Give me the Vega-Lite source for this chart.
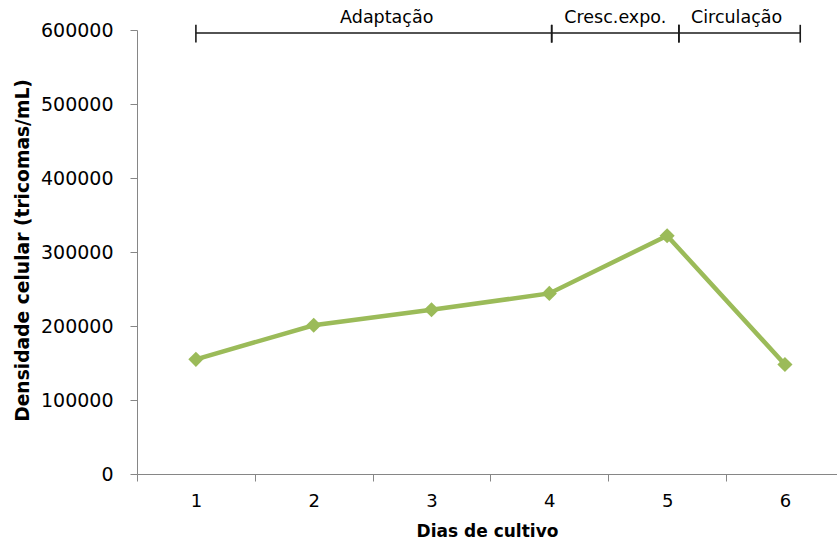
{
  "$schema": "https://vega.github.io/schema/vega-lite/v6.json",
  "width": 700,
  "height": 444,
  "autosize": {"type": "none"},
  "padding": {"left": 137, "top": 30, "right": 0, "bottom": 78},
  "background": "white",
  "config": {"view": {"stroke": null}, "font": "DejaVu Sans"},
  "datasets": {
    "series": [
      {"dia": 1, "densidade": 155000},
      {"dia": 2, "densidade": 201000},
      {"dia": 3, "densidade": 222000},
      {"dia": 4, "densidade": 244000},
      {"dia": 5, "densidade": 322000},
      {"dia": 6, "densidade": 148000}
    ],
    "fases": [
      {"fase": "Adaptação", "inicio": 1, "fim": 4.02, "rotulo": 2.62},
      {"fase": "Cresc.expo.", "inicio": 4.02, "fim": 5.1, "rotulo": 4.56},
      {"fase": "Circulação", "inicio": 5.1, "fim": 6.13, "rotulo": 5.59}
    ]
  },
  "resolve": {"axis": {"x": "independent", "y": "independent"}},
  "layer": [
    {
      "data": {"name": "series"},
      "mark": {"type": "line", "color": "#9BBB59", "strokeWidth": 4.5},
      "encoding": {
        "x": {
          "field": "dia", "type": "quantitative",
          "scale": {"domain": [0.5, 6.442], "nice": false, "zero": false},
          "axis": {
            "values": [1, 2, 3, 4, 5, 6], "ticks": false, "domain": false, "grid": false,
            "labelFontSize": 18, "labelColor": "#000000", "labelPadding": 18,
            "title": "Dias de cultivo", "titleFontSize": 17, "titleFontWeight": "bold",
            "titleColor": "#000000", "titlePadding": 13, "orient": "bottom"
          }
        },
        "y": {
          "field": "densidade", "type": "quantitative",
          "scale": {"domain": [0, 600000], "nice": false},
          "axis": {
            "values": [0, 100000, 200000, 300000, 400000, 500000, 600000],
            "format": "d", "grid": false,
            "tickSize": 7, "tickColor": "#868686", "domainColor": "#868686", "domainWidth": 1,
            "labelFontSize": 19, "labelColor": "#000000", "labelPadding": 17,
            "title": "Densidade celular (tricomas/mL)", "titleFontSize": 18.7, "titleFontWeight": "bold",
            "titleColor": "#000000", "titleBaseline": "middle", "titleX": -115, "titleY": 220
          }
        }
      }
    },
    {
      "data": {"name": "series"},
      "mark": {"type": "point", "shape": "diamond", "filled": true, "color": "#9BBB59", "size": 230, "opacity": 1},
      "encoding": {
        "x": {
          "field": "dia", "type": "quantitative",
          "axis": {
            "values": [0.5, 1.5, 2.5, 3.5, 4.5, 5.5], "labels": false, "title": null, "grid": false,
            "ticks": true, "tickSize": 7, "tickColor": "#868686", "domain": true,
            "domainColor": "#868686", "domainWidth": 1, "orient": "bottom"
          }
        },
        "y": {"field": "densidade", "type": "quantitative", "axis": null}
      }
    },
    {
      "data": {"name": "fases"},
      "mark": {"type": "rule", "color": "#1a1a1a", "strokeWidth": 1.6},
      "encoding": {
        "x": {"field": "inicio", "type": "quantitative", "axis": null},
        "x2": {"field": "fim"},
        "y": {"datum": 596000, "type": "quantitative", "axis": null}
      }
    },
    {
      "data": {"name": "fases"},
      "mark": {"type": "rule", "color": "#1a1a1a", "strokeWidth": 1.6},
      "encoding": {
        "x": {"field": "inicio", "type": "quantitative", "axis": null},
        "y": {"datum": 583000, "type": "quantitative", "axis": null},
        "y2": {"datum": 607000}
      }
    },
    {
      "data": {"name": "fases"},
      "mark": {"type": "rule", "color": "#1a1a1a", "strokeWidth": 1.6},
      "encoding": {
        "x": {"field": "fim", "type": "quantitative", "axis": null},
        "y": {"datum": 583000, "type": "quantitative", "axis": null},
        "y2": {"datum": 607000}
      }
    },
    {
      "data": {"name": "fases"},
      "mark": {"type": "text", "fontSize": 17.5, "color": "#000000", "baseline": "middle", "align": "center"},
      "encoding": {
        "x": {"field": "rotulo", "type": "quantitative", "axis": null},
        "y": {"datum": 616000, "type": "quantitative", "axis": null},
        "text": {"field": "fase"}
      }
    }
  ]
}
